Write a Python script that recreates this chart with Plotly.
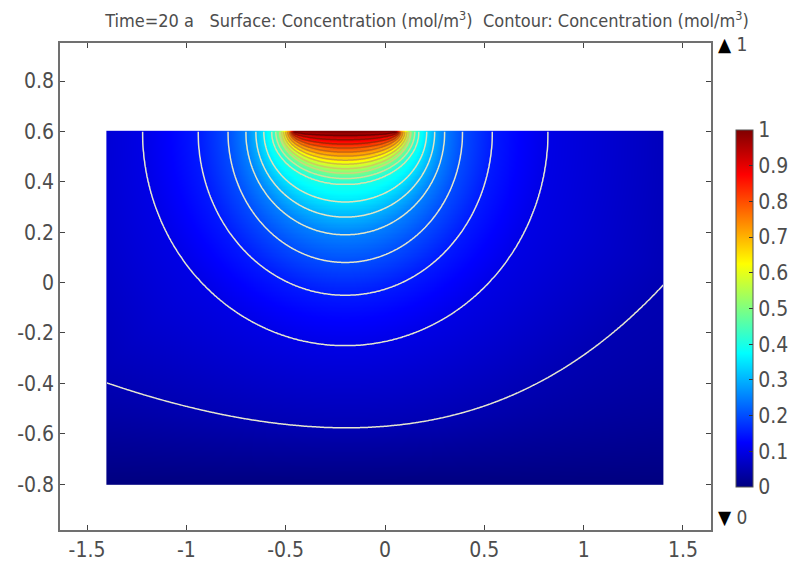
import numpy as np
import plotly.graph_objects as go

# ---- geometry -------------------------------------------------------------
domain_x = [-1.4, 1.4]
domain_y = [-0.8, 0.6]
source_center = [-0.2, 0.6]          # middle of the inflow strip on the top boundary

# ---- concentration iso-lines (mol/m^3) ------------------------------------
# each inner iso-line is a half-ellipse hanging below the source:
# depth = distance straight down from the source, halfwidth = reach along the top edge
arc_levels = [1.0, 0.95, 0.9, 0.85, 0.8, 0.75, 0.7, 0.65, 0.6, 0.55,
              0.5, 0.45, 0.4, 0.35, 0.3, 0.25, 0.2, 0.15, 0.1]
arc_depths = [0.004, 0.016, 0.033, 0.05, 0.066, 0.082, 0.098, 0.114, 0.13, 0.148,
              0.166, 0.187, 0.21, 0.28, 0.34, 0.41, 0.52, 0.65, 0.85]
arc_halfwidths = [0.25, 0.26, 0.265, 0.27, 0.275, 0.28, 0.29, 0.30, 0.31, 0.32,
                  0.33, 0.35, 0.37, 0.41, 0.45, 0.50, 0.59, 0.74, 1.02]

# lowest iso-line runs wall to wall
outer_level = 0.05
outer_x = [-1.4, -1.2, -1.0, -0.8, -0.6, -0.4, -0.2, 0.0, 0.2, 0.4, 0.6, 0.8, 1.0, 1.2, 1.4]
outer_y = [-0.40, -0.445, -0.49, -0.53, -0.555, -0.57, -0.575, -0.57, -0.55, -0.515,
           -0.46, -0.385, -0.29, -0.16, -0.01]
bottom_level = 0.0

contour_levels = [0.05, 0.1, 0.15, 0.2, 0.25, 0.3, 0.35, 0.4, 0.45, 0.5,
                  0.55, 0.6, 0.65, 0.7, 0.75, 0.8, 0.85, 0.9, 0.95]

# ---- axes ----------------------------------------------------------------
x_ticks = [-1.5, -1.0, -0.5, 0.0, 0.5, 1.0, 1.5]
x_ticktext = ["-1.5", "-1", "-0.5", "0", "0.5", "1", "1.5"]
y_ticks = [-0.8, -0.6, -0.4, -0.2, 0.0, 0.2, 0.4, 0.6, 0.8]
y_ticktext = ["-0.8", "-0.6", "-0.4", "-0.2", "0", "0.2", "0.4", "0.6", "0.8"]
cb_ticks = [0, 0.1, 0.2, 0.3, 0.4, 0.5, 0.6, 0.7, 0.8, 0.9, 1.0]
cb_ticktext = ["0", "0.1", "0.2", "0.3", "0.4", "0.5", "0.6", "0.7", "0.8", "0.9", "1"]

jet = [[0.0, "rgb(0,0,128)"], [0.125, "rgb(0,0,255)"], [0.375, "rgb(0,255,255)"],
       [0.625, "rgb(255,255,0)"], [0.875, "rgb(255,0,0)"], [1.0, "rgb(128,0,0)"]]
# iso-line shading: pale at low levels, darker toward the source
line_scale = [[0.0, "rgb(230,230,208)"], [0.3, "rgb(226,228,196)"], [0.45, "rgb(208,224,150)"],
              [0.6, "rgb(205,195,70)"], [0.75, "rgb(205,115,25)"], [0.9, "rgb(165,30,0)"],
              [1.0, "rgb(115,0,0)"]]

# ---- build the concentration surface by interpolating along rays from the source
xs = np.linspace(domain_x[0], domain_x[1], 561)
ys = np.linspace(domain_y[0], domain_y[1], 281)
XX, YY = np.meshgrid(xs, ys)
dx = XX - source_center[0]
dy = source_center[1] - YY            # depth below the top edge (>= 0)
r = np.hypot(dx, dy)
phi = np.arctan2(dy, dx)              # 0 = along top edge to the right, pi = to the left

radii = []
for a, b in zip(arc_halfwidths, arc_depths):
    radii.append(1.0 / np.sqrt((np.cos(phi) / a) ** 2 + (np.sin(phi) / b) ** 2))

# smooth path through the lowest iso-line, then expressed in polar form
coef = np.polyfit(outer_x, outer_y, 4)
fine_x = np.linspace(domain_x[0] - 0.05, domain_x[1] + 0.05, 400)
fine_y = np.polyval(coef, fine_x)
ox = fine_x - source_center[0]
oy = source_center[1] - fine_y
o_phi = np.arctan2(oy, ox)
o_r = np.hypot(ox, oy)
order = np.argsort(o_phi)
radii.append(np.interp(phi, o_phi[order], o_r[order]))

depth_to_bottom = source_center[1] - domain_y[0]
radii.append(np.minimum(depth_to_bottom / np.maximum(np.sin(phi), 1e-6), 50.0))

R = np.stack(radii)                                   # (levels, ny, nx), increasing outward
L = np.array(arc_levels + [outer_level, bottom_level])
idx = (r[None] >= R).sum(axis=0) - 1
idx_c = np.clip(idx, 0, len(L) - 2)
r_lo = np.take_along_axis(R, idx_c[None], 0)[0]
r_hi = np.take_along_axis(R, idx_c[None] + 1, 0)[0]
t = np.clip((r - r_lo) / (r_hi - r_lo), 0, 1)
conc = L[idx_c] + t * (L[idx_c + 1] - L[idx_c])
conc = np.where(idx < 0, 1.0, conc)

font_family = "Liberation Sans Narrow, DejaVu Sans Condensed, Liberation Sans, Arial, sans-serif"
text_color = "#4d4d4d"

fig = go.Figure()
fig.add_trace(go.Heatmap(
    x=xs, y=ys, z=conc, zmin=0, zmax=1, colorscale=jet, hoverinfo="skip",
    colorbar=dict(
        x=1.0384, xanchor="left", xpad=0, y=0.4548, yanchor="middle", ypad=0,
        len=357, lenmode="pixels", thickness=17, thicknessmode="pixels",
        outlinewidth=1, outlinecolor="#555555",
        tickvals=cb_ticks, ticktext=cb_ticktext, ticks="inside", ticklen=4,
        tickcolor="#333333", tickfont=dict(family=font_family, size=21, color=text_color),
    ),
))
fig.add_trace(go.Contour(
    x=xs, y=ys, z=conc, showscale=False, hoverinfo="skip",
    autocontour=False, zmin=0, zmax=1, colorscale=line_scale,
    contours=dict(start=contour_levels[0], end=contour_levels[-1],
                  size=round(contour_levels[1] - contour_levels[0], 4), coloring="lines"),
    line=dict(width=1.5),
))

axis_common = dict(
    ticks="inside", ticklen=5, tickwidth=1, tickcolor="#444444",
    showline=True, linecolor="#707070", linewidth=1.5, mirror="ticks",
    showgrid=False, zeroline=False, automargin=False,
    tickfont=dict(family=font_family, size=21, color=text_color),
)
fig.update_xaxes(range=[-1.636, 1.641], tickvals=x_ticks, ticktext=x_ticktext, **axis_common)
fig.update_yaxes(range=[-0.982, 0.951], tickvals=y_ticks, ticktext=y_ticktext, **axis_common)

fig.update_layout(
    width=799, height=564,
    margin=dict(l=60, r=88, t=43, b=34, pad=0, autoexpand=False),
    paper_bgcolor="white", plot_bgcolor="white",
    title=dict(
        text="Time=20 a   Surface: Concentration (mol/m<sup>3</sup>)  Contour: Concentration (mol/m<sup>3</sup>)",
        x=427 / 799, xanchor="center", y=1 - 21 / 564, yanchor="middle",
        font=dict(family=font_family, size=18, color=text_color),
    ),
    annotations=[
        dict(text="<span style='color:black'>▲</span> 1", xref="paper", yref="paper",
             x=1.008, y=1 - 1 / 487, xanchor="left", yanchor="middle", showarrow=False,
             font=dict(family=font_family, size=19, color=text_color)),
        dict(text="<span style='color:black'>▼</span> 0", xref="paper", yref="paper",
             x=1.008, y=(530 - 517) / 487, xanchor="left", yanchor="middle", showarrow=False,
             font=dict(family=font_family, size=19, color=text_color)),
    ],
)

fig.write_html("out.html")
